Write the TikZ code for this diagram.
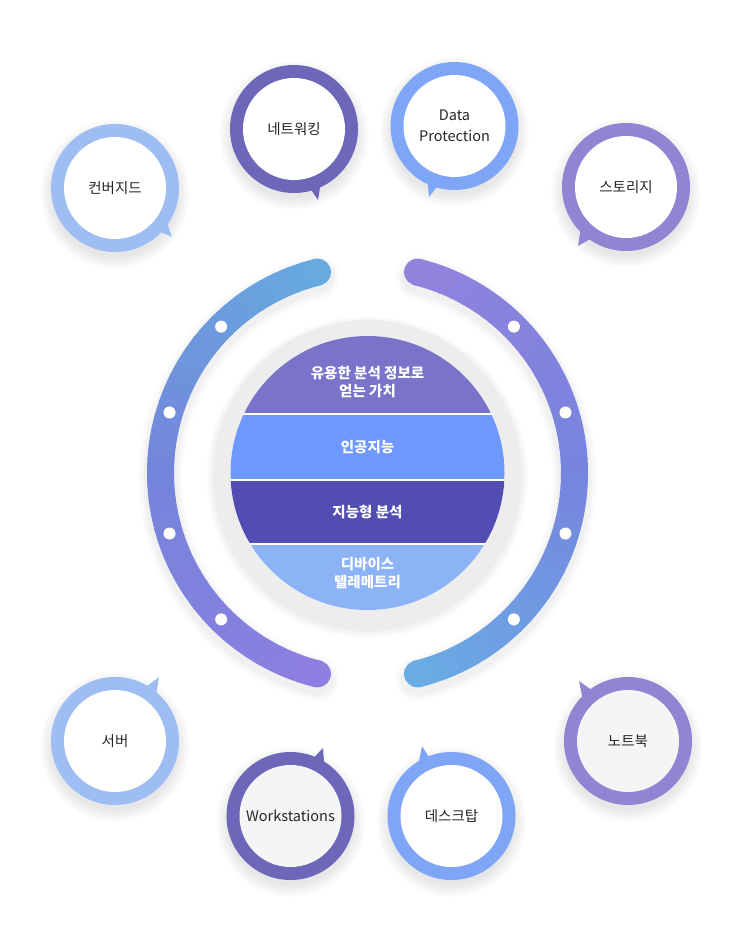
\documentclass[tikz,border=0pt]{standalone}
\usepackage{fontspec}
\newfontfamily\kr{Noto Sans CJK KR}
\usetikzlibrary{calc}
\definecolor{ringL}{HTML}{9DBDF3}
\definecolor{ringD}{HTML}{6D66B9}
\definecolor{ringM}{HTML}{7FA5F6}
\definecolor{ringP}{HTML}{8F85D3}
\definecolor{innerG}{HTML}{F5F5F5}
\definecolor{grayring}{HTML}{EDEDED}
\definecolor{bandA}{HTML}{7B72C9}
\definecolor{bandB}{HTML}{6E98FC}
\definecolor{bandC}{HTML}{524DB3}
\definecolor{bandD}{HTML}{8DB3F7}
\definecolor{txtdark}{HTML}{262626}
\definecolor{lBot}{HTML}{8E7EDF}
\definecolor{lMid}{HTML}{7485DB}
\definecolor{lTop}{HTML}{66AADF}
\definecolor{rTop}{HTML}{9282DD}
\definecolor{rMid}{HTML}{7684DD}
\definecolor{rBot}{HTML}{69ACE5}
\newcommand\gradarc[5]{%
  \foreach \i in {1,...,#5}{
    \pgfmathsetmacro\aa{#1+(#2-#1)*(\i-1)/#5}
    \pgfmathsetmacro\bb{#1+(#2-#1)*\i/#5+0.4}
    \pgfmathsetmacro\pp{100*(\i-0.5)/#5}
    \colorlet{segc}{#4!\pp!#3}
    \draw[line width=27, draw=segc] ($(C)+(\aa:207)$) arc[start angle=\aa, end angle=\bb, radius=207];
  }}
\tikzset{
  bubtext/.style={font=\kr\fontsize{14.5}{21}\selectfont, text=txtdark, align=center, inner sep=0},
  bandtext/.style={font=\kr\bfseries\fontsize{14.5}{18}\selectfont, text=white, align=center, inner sep=0},
  dotw/.style={fill=white},
}
\begin{document}
\begin{tikzpicture}[x=1pt,y=-1pt]
\useasboundingbox (0,0) rectangle (735,942);
\fill[white] (0,0) rectangle (735,942);
\coordinate (C) at (367.5,473);

% arc shadows
\foreach \w/\o in {45/0.010, 41/0.012, 37/0.015, 33/0.02} {
  \draw[line width=\w, line cap=round, black, opacity=\o] ($(C)+(0,5)+(104:207)$) arc[start angle=104, end angle=256, radius=207];
  \draw[line width=\w, line cap=round, black, opacity=\o] ($(C)+(0,5)+(-76:207)$) arc[start angle=-76, end angle=76, radius=207];
}
% left arc
\gradarc{104}{180}{lBot}{lMid}{20}
\gradarc{180}{256}{lMid}{lTop}{20}
\fill[lBot] ($(C)+(104:207)$) circle[radius=13.5];
\fill[lTop] ($(C)+(256:207)$) circle[radius=13.5];
% right arc
\gradarc{-76}{0}{rTop}{rMid}{20}
\gradarc{0}{76}{rMid}{rBot}{20}
\fill[rTop] ($(C)+(-76:207)$) circle[radius=13.5];
\fill[rBot] ($(C)+(76:207)$) circle[radius=13.5];
% dots
\foreach \a in {135,163,197,225,-45,-17,17,45}
  \fill[dotw] ($(C)+(\a:207)$) circle[radius=6];

% central disk
\foreach \k in {1,...,6}
  \fill[black, opacity=0.012] ($(C)+(0,4)$) circle[radius=152+\k*1.5];
\fill[grayring] (C) circle[radius=153];
\fill[white] (C) circle[radius=137];
\begin{scope}
  \clip (C) circle[radius=137];
  \fill[bandA] (220,330) rectangle (520,413);
  \fill[bandB] (220,415) rectangle (520,479);
  \fill[bandC] (220,481) rectangle (520,543);
  \fill[bandD] (220,545) rectangle (520,615);
\end{scope}
\node[bandtext] (b1) at (367.5,382) {유용한 분석 정보로\\얻는 가치};
\node[bandtext] (b2) at (367.5,447) {인공지능};
\node[bandtext] (b3) at (367.5,512) {지능형 분석};
\node[bandtext] (b4) at (367.5,573) {디바이스\\텔레메트리};

% bubbles
\foreach \nm/\x/\y/\rc/\ic/\ta/\tb/\tx/\ty/\txt in {
  conv/115/188/ringL/white/30/46/57/49/{컨버지드},
  netw/294/129/ringD/white/62/76/24/71/{네트워킹},
  dpro/454.5/126/ringM/white/104/118/-25.5/71/{Data\\Protection},
  stor/626/187/ringP/white/122/140/-48/59/{스토리지},
  serv/115/741/ringL/white/-62/-46/44/-64/{서버},
  work/290.5/816/ringD/innerG/-70/-54/32.5/-68/{Workstations},
  desk/451.5/816/ringM/white/-126/-110/-29.5/-70/{데스크탑},
  note/628/741/ringP/innerG/-140/-124/-49/-60/{노트북}} {
  \foreach \k in {1,...,8}
    \fill[black, opacity=0.012] (\x,\y+6) circle[radius=62+\k*1.6];
  \fill[\rc] ($(\x,\y)+(\ta:58)$) -- ($(\x,\y)+(\tx,\ty)$) -- ($(\x,\y)+(\tb:58)$) -- cycle;
  \fill[\rc] (\x,\y) circle[radius=64];
  \fill[\ic] (\x,\y) circle[radius=51];
  \node[bubtext] (\nm) at (\x,\y) {\txt};
}
\end{tikzpicture}
\end{document}
